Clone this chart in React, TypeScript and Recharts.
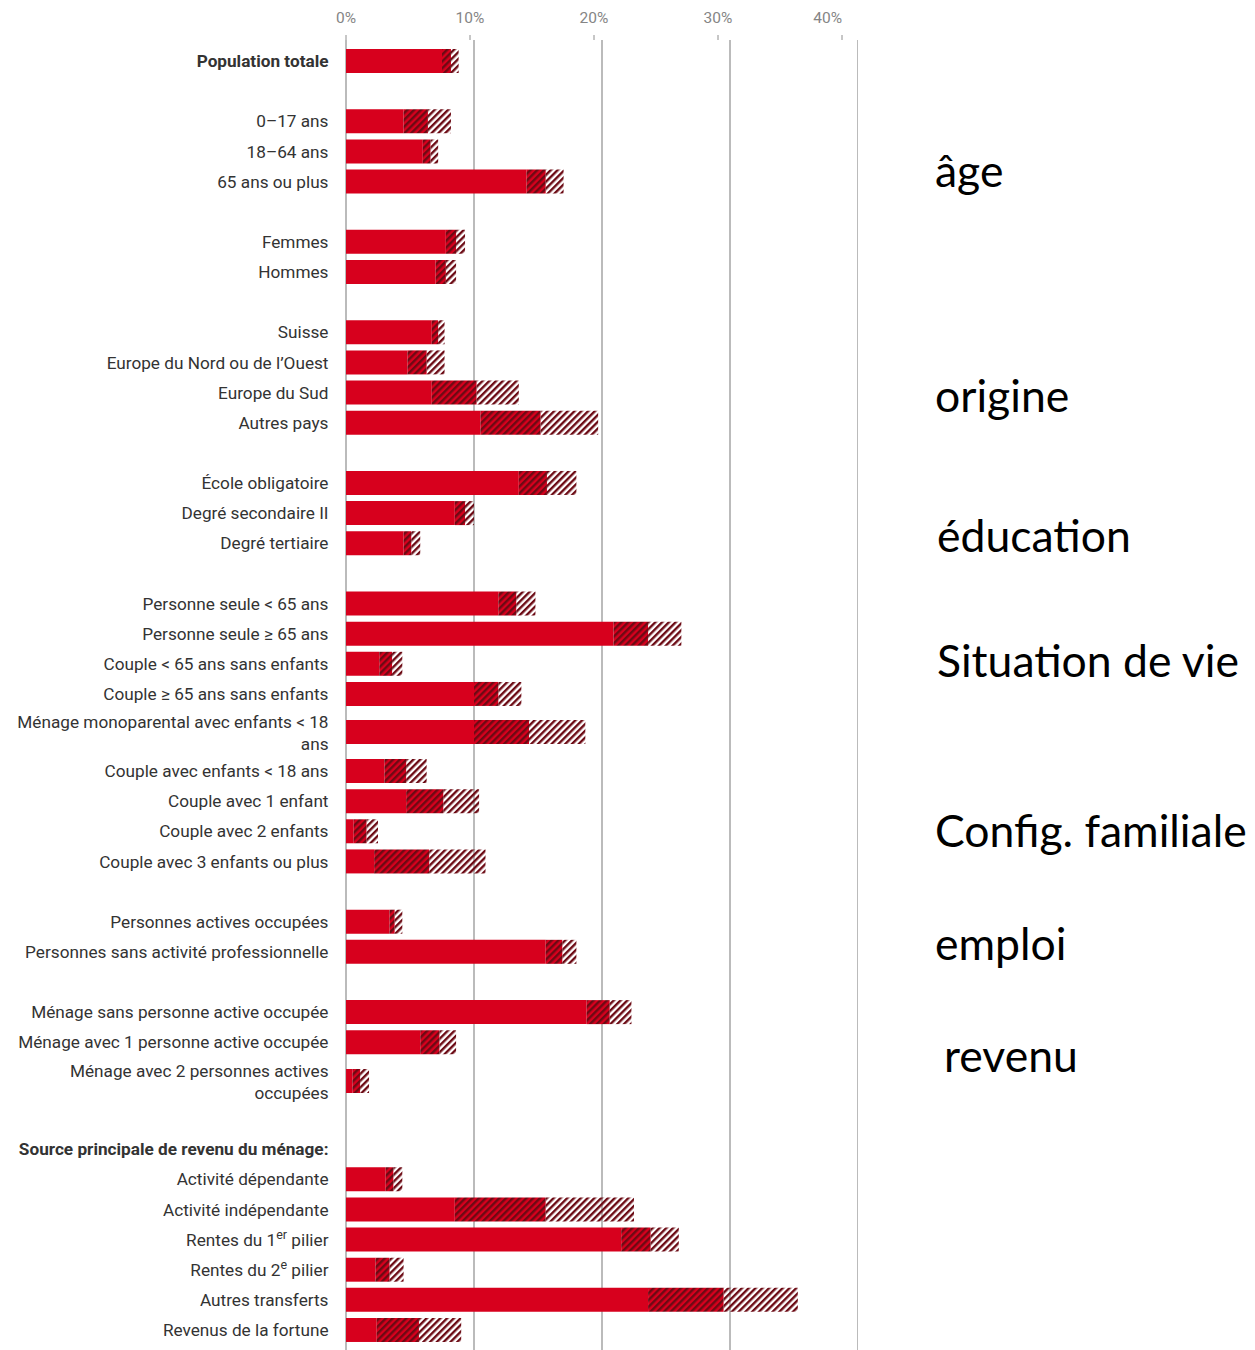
import React from "react";
import { BarChart, Bar, XAxis, YAxis, CartesianGrid } from "recharts";

// ---------- data ----------
const CATEGORIES: string[] = [
  "Population totale",
  "",
  "0–17 ans",
  "18–64 ans",
  "65 ans ou plus",
  "",
  "Femmes",
  "Hommes",
  "",
  "Suisse",
  "Europe du Nord ou de l’Ouest",
  "Europe du Sud",
  "Autres pays",
  "",
  "École obligatoire",
  "Degré secondaire II",
  "Degré tertiaire",
  "",
  "Personne seule < 65 ans",
  "Personne seule ≥ 65 ans",
  "Couple < 65 ans sans enfants",
  "Couple ≥ 65 ans sans enfants",
  "Ménage monoparental avec enfants < 18\nans",
  "Couple avec enfants < 18 ans",
  "Couple avec 1 enfant",
  "Couple avec 2 enfants",
  "Couple avec 3 enfants ou plus",
  "",
  "Personnes actives occupées",
  "Personnes sans activité professionnelle",
  "",
  "Ménage sans personne active occupée",
  "Ménage avec 1 personne active occupée",
  "Ménage avec 2 personnes actives\noccupées",
  "",
  "Source principale de revenu du ménage:",
  "Activité dépendante",
  "Activité indépendante",
  "Rentes du 1<sup>er</sup> pilier",
  "Rentes du 2<sup>e</sup> pilier",
  "Autres transferts",
  "Revenus de la fortune",
];

// lower bound of the interval (solid part)
const LOW: (number | null)[] = [
  7.5, null, 4.5, 6.0, 14.1, null, 7.8, 7.0, null, 6.7, 4.8, 6.7, 10.5, null,
  13.5, 8.5, 4.5, null, 11.9, 20.9, 2.6, 10.0, 10.0, 3.0, 4.7, 0.6, 2.2, null,
  3.4, 15.6, null, 18.8, 5.8, 0.5, null, null, 3.1, 8.5, 21.5, 2.3, 23.6, 2.4,
];
// point estimate
const EST: (number | null)[] = [
  8.2, null, 6.4, 6.6, 15.6, null, 8.6, 7.8, null, 7.2, 6.3, 10.2, 15.2, null,
  15.7, 9.3, 5.1, null, 13.3, 23.6, 3.6, 11.9, 14.3, 4.7, 7.6, 1.6, 6.5, null,
  3.8, 16.9, null, 20.6, 7.3, 1.1, null, null, 3.7, 15.6, 23.8, 3.4, 29.5, 5.7,
];
// upper bound of the interval
const HIGH: (number | null)[] = [
  8.8, null, 8.2, 7.2, 17.0, null, 9.3, 8.6, null, 7.7, 7.7, 13.5, 19.7, null,
  18.0, 10.0, 5.8, null, 14.8, 26.2, 4.4, 13.7, 18.7, 6.3, 10.4, 2.5, 10.9, null,
  4.4, 18.0, null, 22.3, 8.6, 1.8, null, null, 4.4, 22.5, 26.0, 4.5, 35.3, 9.0,
];

const X_TICKS = [0, 10, 20, 30, 40];
const BOLD_LABELS = ["Population totale", "Source principale de revenu du ménage:"];

const ANNOTATIONS = [
  { text: "âge", x: 935, y: 187 },
  { text: "origine", x: 935, y: 412 },
  { text: "éducation", x: 937, y: 552 },
  { text: "Situation de vie", x: 937, y: 677 },
  { text: "Config. familiale", x: 935, y: 847 },
  { text: "emploi", x: 935, y: 960 },
  { text: "revenu", x: 944, y: 1072 },
];

// ---------- style ----------
const RED = "#d7001d";
const MAROON = "#6c0a14";
const GRID = "#8e8e8e";
const FONT = "Roboto, 'Noto Sans', sans-serif";
const LABEL_SIZE = 17.2;
const AXIS_W = 338; // left label area (plot starts at page x 346)
const PLOT_W = 512; // 0..40 %
const ROW_H = 30.14;
const TALL_H = 46.9;
const FIRST_TOP = 46.2; // page y of first row band

type Row = { id: number; a?: number; b?: number; c?: number };

const ROWS: Row[] = CATEGORIES.map((_, i) => {
  const lo = LOW[i];
  const es = EST[i];
  const hi = HIGH[i];
  if (lo == null || es == null || hi == null) return { id: i };
  return { id: i, a: lo, b: es - lo, c: hi - es };
});

// group consecutive rows of equal height into segments
type Segment = { rows: Row[]; rowH: number; top: number };
const SEGMENTS: Segment[] = (() => {
  const segs: Segment[] = [];
  let top = FIRST_TOP;
  ROWS.forEach((r) => {
    const h = CATEGORIES[r.id].includes("\n") ? TALL_H : ROW_H;
    const last = segs[segs.length - 1];
    if (last && last.rowH === h) {
      last.rows.push(r);
    } else {
      if (last) top = last.top + last.rows.length * last.rowH;
      segs.push({ rows: [r], rowH: h, top });
    }
  });
  return segs;
})();

function renderSup(line: string) {
  const parts = line.split(/<sup>(.*?)<\/sup>/);
  const out: React.ReactNode[] = [];
  let prevSup = false;
  parts.forEach((p, i) => {
    const isSup = i % 2 === 1;
    if (p === "") return;
    if (isSup) {
      out.push(
        <tspan key={i} dy={-6.5} fontSize={12.5}>
          {p}
        </tspan>
      );
      prevSup = true;
    } else {
      out.push(
        <tspan key={i} dy={prevSup ? 6.5 : undefined}>
          {p}
        </tspan>
      );
      prevSup = false;
    }
  });
  return out;
}

function RowTick(props: any) {
  const { x, y, payload } = props;
  const label = CATEGORIES[Number(payload.value)] || "";
  if (!label) return <g />;
  const bold = BOLD_LABELS.includes(label);
  const lines = label.split("\n");
  const offs = lines.length === 1 ? [0] : [-11, 11];
  const base = LABEL_SIZE * 0.355;
  return (
    <g>
      {lines.map((ln, i) => (
        <text
          key={i}
          x={x}
          y={y + offs[i] + base}
          textAnchor="end"
          fontFamily={FONT}
          fontSize={LABEL_SIZE}
          fontWeight={bold ? 700 : 400}
          fill="#333"
        >
          {renderSup(ln)}
        </text>
      ))}
    </g>
  );
}

function TopTick(props: any) {
  const { x, payload, index } = props;
  const isLast = index === X_TICKS.length - 1;
  return (
    <text
      x={x}
      y={15}
      textAnchor={isLast ? "end" : "middle"}
      fontFamily={FONT}
      fontSize={15.5}
      fill="#858585"
    >
      {payload.value}%
    </text>
  );
}

function Patterns({ suffix }: { suffix: string }) {
  return (
    <defs>
      <pattern
        id={"hd" + suffix}
        patternUnits="userSpaceOnUse"
        width={4.8}
        height={4.8}
        patternTransform="rotate(45)"
      >
        <rect width={4.8} height={4.8} fill={RED} />
        <rect width={2.4} height={4.8} fill={MAROON} />
      </pattern>
      <pattern
        id={"hl" + suffix}
        patternUnits="userSpaceOnUse"
        width={4.8}
        height={4.8}
        patternTransform="rotate(45)"
      >
        <rect width={2.4} height={4.8} fill={MAROON} />
      </pattern>
    </defs>
  );
}

function SegmentChart({ seg, idx }: { seg: Segment; idx: number }) {
  const sfx = "s" + idx;
  return (
    <div style={{ position: "absolute", left: 0, top: seg.top - 8 }}>
      <BarChart
        layout="vertical"
        width={AXIS_W + PLOT_W}
        height={seg.rows.length * seg.rowH}
        data={seg.rows}
        margin={{ top: 0, right: 0, bottom: 0, left: 0 }}
        barSize={24}
      >
        <Patterns suffix={sfx} />
        <XAxis type="number" domain={[0, 40]} allowDataOverflow hide />
        <YAxis
          type="category"
          dataKey="id"
          width={AXIS_W}
          axisLine={false}
          tickLine={false}
          tickSize={0}
          tickMargin={17.5}
          interval={0}
          tick={(p: any) => <RowTick {...p} />}
        />
        <Bar dataKey="a" stackId="s" fill={RED} isAnimationActive={false} />
        <Bar dataKey="b" stackId="s" fill={`url(#hd${sfx})`} isAnimationActive={false} />
        <Bar dataKey="c" stackId="s" fill={`url(#hl${sfx})`} isAnimationActive={false} />
      </BarChart>
    </div>
  );
}

export default function App() {
  return (
    <div style={{ position: "relative", width: 1247, height: 1342, background: "#fff" }}>
      {/* background: top axis + vertical grid */}
      <div style={{ position: "absolute", left: 0, top: 0 }}>
        <BarChart
          layout="vertical"
          width={AXIS_W + PLOT_W}
          height={1342}
          data={ROWS}
          margin={{ top: 0, right: 0, bottom: 0, left: AXIS_W }}
        >
          <XAxis
            xAxisId="top"
            orientation="top"
            type="number"
            domain={[0, (40 * 128) / 124]}
            allowDataOverflow
            ticks={X_TICKS}
            height={32}
            axisLine={false}
            tickSize={5}
            tickLine={{ stroke: GRID }}
            tick={(p: any) => <TopTick {...p} />}
            interval={0}
          />
          <XAxis
            xAxisId="grid"
            type="number"
            domain={[0, 40]}
            allowDataOverflow
            ticks={X_TICKS}
            hide
          />
          <YAxis type="category" dataKey="id" hide />
          <CartesianGrid horizontal={false} xAxisId="grid" stroke={GRID} strokeWidth={1.2} />
        </BarChart>
      </div>
      {SEGMENTS.map((s, i) => (
        <SegmentChart key={i} seg={s} idx={i} />
      ))}
      <svg
        width={1247}
        height={1342}
        style={{ position: "absolute", left: 0, top: 0, pointerEvents: "none" }}
      >
        {ANNOTATIONS.map((a) => (
          <text
            key={a.text}
            x={a.x - 8}
            y={a.y - 8}
            fontFamily="Lato, 'Open Sans', sans-serif"
            fontSize={44.5}
            fill="#000"
          >
            {a.text}
          </text>
        ))}
      </svg>
    </div>
  );
}
